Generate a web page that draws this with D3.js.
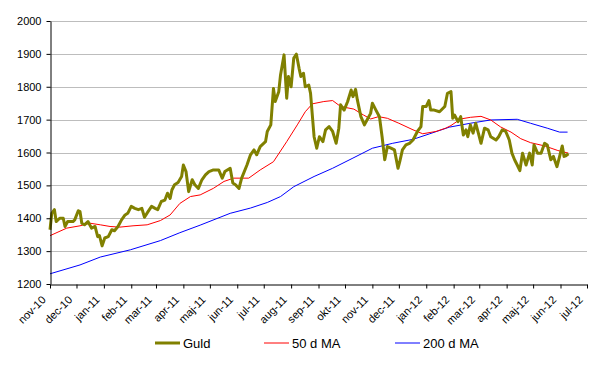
<!DOCTYPE html>
<html>
<head>
<meta charset="utf-8">
<script src="https://cdn.jsdelivr.net/npm/d3@7"></script>
<style>
   body { margin: 0; background: #fff; }
   text { font-family: "Liberation Sans", Arial, sans-serif; fill: #000; }
   .grid line { stroke: #bdbdbd; stroke-width: 1; }
   .axis path, .axis line { stroke: #000; stroke-width: 1; }
</style>
</head>
<body>
<div class="chart-container"></div>
<script>
const gold_dates = [
   '2010-11-01', '2010-11-03', '2010-11-06', '2010-11-08', '2010-11-12', '2010-11-16', '2010-11-18', '2010-11-21',
   '2010-11-27', '2010-11-29', '2010-12-03', '2010-12-05', '2010-12-07', '2010-12-10', '2010-12-14', '2010-12-18',
   '2010-12-22', '2010-12-25', '2010-12-27', '2010-12-30', '2011-01-02', '2011-01-06', '2011-01-10', '2011-01-13',
   '2011-01-17', '2011-01-21', '2011-01-25', '2011-01-28', '2011-02-01', '2011-02-05', '2011-02-09', '2011-02-13',
   '2011-02-16', '2011-02-20', '2011-02-24', '2011-02-28', '2011-03-03', '2011-03-07', '2011-03-11', '2011-03-14',
   '2011-03-17', '2011-03-19', '2011-03-22', '2011-03-26', '2011-03-30', '2011-04-01', '2011-04-04', '2011-04-07',
   '2011-04-11', '2011-04-14', '2011-04-18', '2011-04-22', '2011-04-26', '2011-04-30', '2011-05-05', '2011-05-11',
   '2011-05-15', '2011-05-18', '2011-05-24', '2011-05-27', '2011-05-30', '2011-06-03', '2011-06-06', '2011-06-12',
   '2011-06-16', '2011-06-20', '2011-06-23', '2011-06-27', '2011-07-03', '2011-07-05', '2011-07-09', '2011-07-12',
   '2011-07-14', '2011-07-18', '2011-07-20', '2011-07-24', '2011-07-27', '2011-07-29', '2011-08-01', '2011-08-04',
   '2011-08-07', '2011-08-10', '2011-08-12', '2011-08-15', '2011-08-17', '2011-08-21', '2011-08-23', '2011-08-25',
   '2011-08-27', '2011-08-30', '2011-09-02', '2011-09-06', '2011-09-09', '2011-09-13', '2011-09-17', '2011-09-21',
   '2011-09-24', '2011-09-26', '2011-09-30', '2011-10-04', '2011-10-08', '2011-10-10', '2011-10-13', '2011-10-15',
   '2011-10-19', '2011-10-23', '2011-10-27', '2011-10-30', '2011-11-01', '2011-11-05', '2011-11-09', '2011-11-12',
   '2011-11-15', '2011-11-18', '2011-11-22', '2011-11-26', '2011-11-30', '2011-12-02', '2011-12-05', '2011-12-09',
   '2011-12-13', '2011-12-17', '2011-12-22', '2011-12-26', '2011-12-28', '2012-01-01', '2012-01-04', '2012-01-06',
   '2012-01-10', '2012-01-16', '2012-01-22', '2012-01-25', '2012-01-29', '2012-01-31', '2012-02-02', '2012-02-06',
   '2012-02-09', '2012-02-12', '2012-02-15', '2012-02-17', '2012-02-20', '2012-02-23', '2012-02-26', '2012-02-29',
   '2012-03-03', '2012-03-07', '2012-03-11', '2012-03-14', '2012-03-20', '2012-03-23', '2012-03-27', '2012-03-31',
   '2012-04-04', '2012-04-07', '2012-04-10', '2012-04-13', '2012-04-16', '2012-04-19', '2012-04-23', '2012-04-27',
   '2012-04-30', '2012-05-02', '2012-05-06', '2012-05-10', '2012-05-14', '2012-05-17', '2012-05-21', '2012-05-24',
   '2012-05-28', '2012-05-31', '2012-06-03', '2012-06-05', '2012-06-07', '2012-06-10'
];
const gold_values = [
   1365, 1415, 1426, 1390, 1400, 1400, 1375, 1390,
   1390, 1395, 1423, 1420, 1385, 1380, 1390, 1370,
   1375, 1344, 1347, 1316, 1340, 1344, 1365, 1362,
   1375, 1395, 1410, 1415, 1436, 1430, 1426, 1430,
   1403, 1420, 1436, 1430, 1426, 1451, 1455, 1476,
   1460, 1486, 1502, 1509, 1527, 1562, 1542, 1481,
   1517, 1502, 1491, 1517, 1532, 1542, 1547, 1547,
   1522, 1542, 1552, 1507, 1502, 1491, 1522, 1562,
   1593, 1608, 1593, 1618, 1633, 1664, 1684, 1795,
   1755, 1785, 1836, 1897, 1765, 1831, 1800, 1887,
   1899, 1856, 1831, 1841, 1800, 1805, 1780, 1714,
   1648, 1613, 1648, 1633, 1669, 1679, 1664, 1628,
   1674, 1745, 1729, 1755, 1790, 1770, 1792, 1760,
   1709, 1684, 1704, 1719, 1750, 1729, 1709, 1648,
   1578, 1618, 1613, 1608, 1552, 1572, 1608, 1623,
   1628, 1638, 1664, 1679, 1740, 1740, 1758, 1729,
   1729, 1724, 1740, 1780, 1785, 1704, 1714, 1694,
   1709, 1653, 1669, 1648, 1684, 1659, 1689, 1659,
   1628, 1674, 1669, 1648, 1638, 1648, 1669, 1664,
   1638, 1598, 1578, 1562, 1545, 1598, 1562, 1598,
   1562, 1623, 1598, 1598, 1628, 1623, 1578, 1588,
   1557, 1588, 1620, 1588, 1590, 1596
];

const ma50_dates = [
   '2010-11-01', '2010-11-20', '2010-12-05', '2010-12-16', '2010-12-28', '2011-01-08', '2011-01-19', '2011-02-03',
   '2011-02-19', '2011-03-06', '2011-03-17', '2011-03-28', '2011-04-09', '2011-04-20', '2011-05-05', '2011-05-17',
   '2011-05-28', '2011-06-14', '2011-06-27', '2011-07-12', '2011-07-27', '2011-08-08', '2011-08-17', '2011-08-25',
   '2011-09-07', '2011-09-17', '2011-09-26', '2011-10-11', '2011-10-22', '2011-10-30', '2011-11-08', '2011-11-18',
   '2011-12-01', '2011-12-17', '2011-12-28', '2012-01-12', '2012-01-23', '2012-01-29', '2012-02-09', '2012-02-20',
   '2012-03-03', '2012-03-14', '2012-03-25', '2012-04-06', '2012-04-17', '2012-04-28', '2012-05-14', '2012-05-29',
   '2012-06-10'
];
const ma50_values = [
   1347, 1370, 1377, 1385, 1380, 1375, 1373, 1377,
   1380, 1393, 1410, 1445, 1466, 1471, 1491, 1512,
   1522, 1522, 1547, 1572, 1633, 1684, 1724, 1748,
   1755, 1758, 1740, 1732, 1714, 1702, 1709, 1704,
   1689, 1669, 1657, 1664, 1674, 1682, 1702, 1707,
   1710, 1699, 1678, 1662, 1642, 1630, 1620, 1606,
   1598
];

const ma200_dates = [
   '2010-11-01', '2010-12-05', '2010-12-28', '2011-01-31', '2011-03-06', '2011-03-28', '2011-04-20', '2011-05-24',
   '2011-06-16', '2011-07-05', '2011-07-20', '2011-08-04', '2011-08-27', '2011-09-17', '2011-10-10', '2011-11-01',
   '2011-11-24', '2011-12-17', '2012-01-05', '2012-01-27', '2012-02-20', '2012-03-14', '2012-04-13', '2012-04-28',
   '2012-05-17', '2012-05-31', '2012-06-09'
];
const ma200_values = [
   1231, 1258, 1282, 1304, 1332, 1356, 1379, 1415,
   1431, 1448, 1466, 1496, 1527, 1552, 1583, 1613,
   1628, 1640, 1657, 1677, 1689, 1699, 1701, 1689,
   1674, 1662, 1662
];

const month_names = ['jan', 'feb', 'mar', 'apr', 'maj', 'jun', 'jul', 'aug', 'sep', 'okt', 'nov', 'dec'];
const y_ticks = [1200, 1300, 1400, 1500, 1600, 1700, 1800, 1900, 2000];
const series_names = ['Guld', '50 d MA', '200 d MA'];

const parse_date = d3.timeParse('%Y-%m-%d');

function build_x_scale(width) {
   return d3.scaleTime()
      .domain([new Date(2010, 10, 1), new Date(2012, 6, 1)])
      .range([0, width]);
}

function build_y_scale(height) {
   return d3.scaleLinear()
      .domain([d3.min(y_ticks), d3.max(y_ticks)])
      .range([height, 0]);
}

function build_graph(margin) {
   return d3.select('.chart-container')
      .append('svg')
      .attr('width', 598)
      .attr('height', 382)
      .append('g')
      .attr('transform', `translate(${margin.left}, ${margin.top})`);
}

function draw_grid(chart, yScale, width) {
   chart.append('g')
      .attr('class', 'grid')
      .selectAll('line')
      .data(y_ticks.filter(d => d > d3.min(y_ticks)))
      .enter()
      .append('line')
      .attr('x1', 0)
      .attr('x2', width)
      .attr('y1', d => Math.round(yScale(d)) + 0.5)
      .attr('y2', d => Math.round(yScale(d)) + 0.5);
}

function draw_series(chart, dates, values, xScale, yScale, color, thickness) {
   const points = dates.map((d, i) => ({date: parse_date(d), value: values[i]}));
   const line = d3.line()
      .x(d => xScale(d.date))
      .y(d => yScale(d.value));
   chart.append('path')
      .datum(points)
      .attr('d', line)
      .attr('fill', 'none')
      .attr('stroke', color)
      .attr('stroke-width', thickness)
      .attr('stroke-linejoin', 'round');
}

function create_x_axis(xScale, chart, height) {
   const months = d3.timeMonth.range(xScale.domain()[0], d3.timeDay.offset(xScale.domain()[1], 1));
   const xAxis = d3.axisBottom(xScale)
      .tickValues(months)
      .tickFormat(d => month_names[d.getMonth()] + '-' + d3.timeFormat('%y')(d))
      .tickSizeInner(4)
      .tickSizeOuter(0);
   const xAxisDraw = chart.append('g')
      .attr('class', 'x axis')
      .attr('transform', `translate(0, ${height + 0.5})`)
      .call(xAxis);
   xAxisDraw.selectAll('text')
      .attr('x', 0)
      .attr('y', 0)
      .attr('dy', 0)
      .attr('text-anchor', 'end')
      .attr('transform', 'translate(-4, 16) rotate(-45)')
      .style('font-size', '11px');
}

function create_y_axis(yScale, chart) {
   const yAxis = d3.axisLeft(yScale)
      .tickValues(y_ticks)
      .tickFormat(d3.format('d'))
      .tickSizeInner(4)
      .tickSizeOuter(0)
      .tickPadding(5);
   const yAxisDraw = chart.append('g')
      .attr('class', 'y axis')
      .attr('transform', 'translate(0.5, 0)')
      .call(yAxis);
   yAxisDraw.selectAll('text').style('font-size', '11px');
}

function draw_legend(svg) {
   const items = [
      {name: series_names[0], color: '#808000', thickness: 3, x: 155},
      {name: series_names[1], color: '#ff0000', thickness: 1, x: 264},
      {name: series_names[2], color: '#0000ff', thickness: 1, x: 395}
   ];
   const legend = svg.append('g').attr('transform', 'translate(0, 343)');
   const item = legend.selectAll('.item')
      .data(items)
      .enter()
      .append('g')
      .attr('transform', d => `translate(${d.x}, 0)`);
   item.append('line')
      .attr('x1', 0)
      .attr('x2', 25)
      .attr('stroke', d => d.color)
      .attr('stroke-width', d => d.thickness);
   item.append('text')
      .attr('x', 28)
      .attr('dy', '0.36em')
      .style('font-size', '13px')
      .text(d => d.name);
}

function build_chart() {
   const margin = {top: 21, left: 50};
   const width = 537;
   const height = 263;

   let xScale = build_x_scale(width);
   let yScale = build_y_scale(height);
   let chart = build_graph(margin);
   draw_grid(chart, yScale, width);
   draw_series(chart, ma200_dates, ma200_values, xScale, yScale, '#0000ff', 1);
   draw_series(chart, ma50_dates, ma50_values, xScale, yScale, '#ff0000', 1);
   draw_series(chart, gold_dates, gold_values, xScale, yScale, '#808000', 3);
   create_x_axis(xScale, chart, height);
   create_y_axis(yScale, chart);
   draw_legend(d3.select('.chart-container svg'));
}

build_chart();
</script>
</body>
</html>
